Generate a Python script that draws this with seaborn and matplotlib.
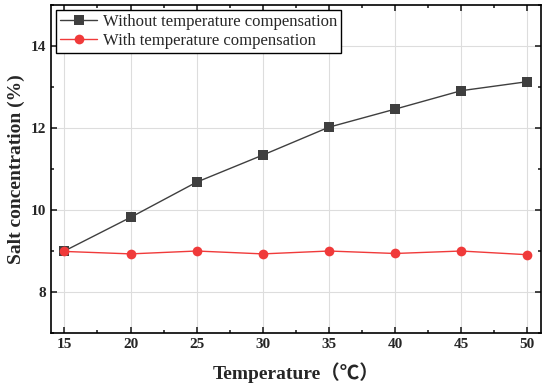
import pandas as pd
import matplotlib
matplotlib.use("Agg")
import matplotlib.pyplot as plt
import seaborn as sns
from matplotlib.ticker import MultipleLocator

temperature = [15, 20, 25, 30, 35, 40, 45, 50]
without_comp = [9.00, 9.82, 10.68, 11.34, 12.02, 12.46, 12.91, 13.13]
with_comp = [8.99, 8.93, 9.00, 8.93, 9.00, 8.94, 9.00, 8.91]
series_names = ["Without temperature compensation", "With temperature compensation"]

sns.set_style("ticks")
plt.rcParams['font.family'] = ['Liberation Serif', 'Noto Sans CJK SC', 'DejaVu Sans']

df = pd.DataFrame({
    "Temperature": temperature * 2,
    "Salt": without_comp + with_comp,
    "Series": [series_names[0]] * len(temperature) + [series_names[1]] * len(temperature),
})

fig = plt.figure(figsize=(5.5, 3.85), dpi=100)
ax = fig.add_axes([0.093, 0.135, 0.891, 0.852])

ax = sns.lineplot(
    data=df, x="Temperature", y="Salt", hue="Series", style="Series",
    palette=["#3f3f3f", "#f03a3a"], markers=["s", "o"], dashes=False,
    markersize=7, linewidth=1.0, markeredgewidth=0, ax=ax
)

ax.set_xlim(14, 51.05)
ax.set_ylim(7, 15)
ax.set_xticks(temperature)
ax.xaxis.set_minor_locator(MultipleLocator(2.5))
ax.yaxis.set_major_locator(MultipleLocator(2))
ax.yaxis.set_minor_locator(MultipleLocator(1))
ax.tick_params(which='both', direction='in', top=True, right=True, width=1.2)
ax.tick_params(which='major', length=4)
ax.tick_params(which='minor', length=2.5)
ax.tick_params(labelsize=11)
for lab in ax.get_xticklabels() + ax.get_yticklabels():
    lab.set_fontweight('bold')

ax.grid(True, which='major', color='#dddddd', linewidth=0.8)
ax.set_axisbelow(True)
for sp in ax.spines.values():
    sp.set_linewidth(1.2)
    sp.set_color('black')

ax.set_xlabel("Temperature（℃）", fontsize=14, fontweight='bold', labelpad=8)
ax.set_ylabel("Salt concentration (%)", fontsize=14, fontweight='bold', labelpad=4)

leg = ax.legend(loc='upper left', fontsize=12, frameon=True, fancybox=False,
                edgecolor='black', borderaxespad=0.3, handlelength=2.2,
                handletextpad=0.35, borderpad=0.25, labelspacing=0.15)
leg.get_frame().set_linewidth(1.0)
leg.get_frame().set_alpha(1)

plt.savefig("out.png", dpi=100)
plt.close()
